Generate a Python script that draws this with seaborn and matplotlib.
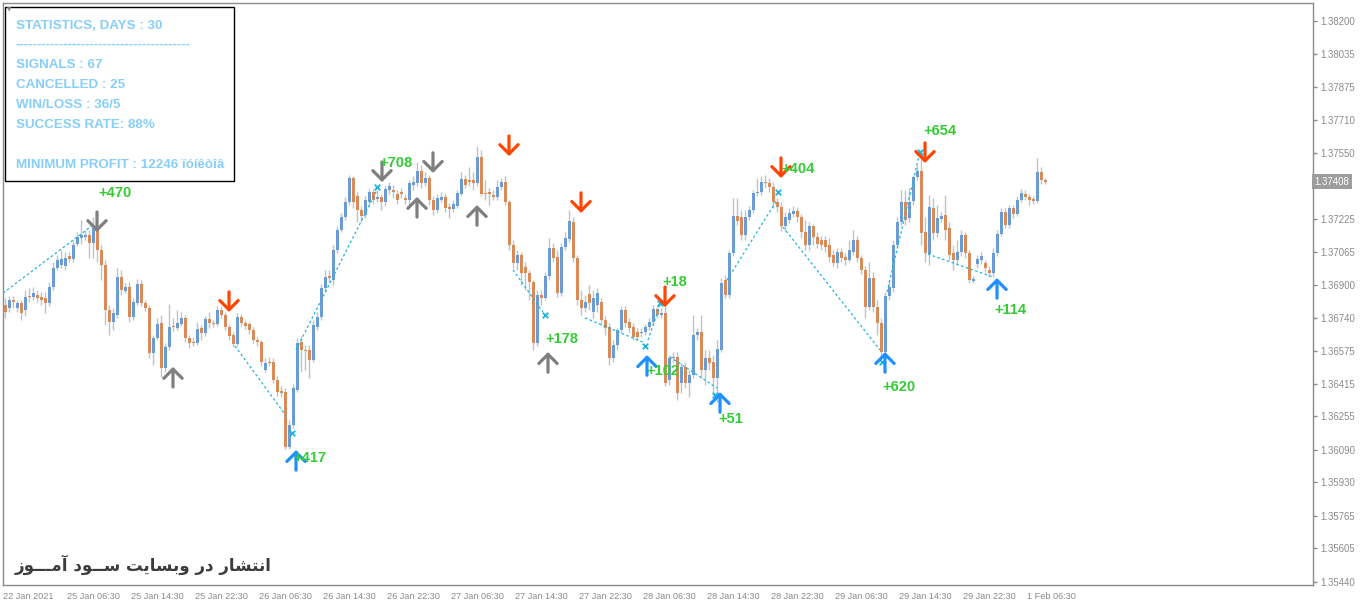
import numpy as np
import pandas as pd
import seaborn as sns
import matplotlib.pyplot as plt
from matplotlib.patches import Rectangle


# 30 minute bars, quotes in points (price * 1e5)
open_pts = [
    136802, 136788, 136827, 136788, 136812, 136778, 136846, 136842, 136851, 136842,
    136837, 136812, 136891, 136985, 136999, 136994, 137043, 137029, 137102, 137132,
    137137, 137147, 137107, 137181, 137073, 136999, 136778, 136719, 136753, 136940,
    136871, 136891, 136744, 136812, 136905, 136812, 136788, 136566, 136640, 136714,
    136493, 136596, 136699, 136689, 136709, 136739, 136640, 136620, 136615, 136689,
    136664, 136734, 136714, 136709, 136778, 136753, 136694, 136654, 136610, 136744,
    136714, 136709, 136679, 136630, 136620, 136483, 136522, 136522, 136433, 136379,
    136374, 136104, 136212, 136384, 136620, 136581, 136581, 136532, 136694, 136744,
    136886, 136945, 136925, 137073, 137171, 137236, 137309, 137427, 137339, 137270,
    137245, 137309, 137358, 137324, 137334, 137309, 137368, 137368, 137348, 137358,
    137329, 137319, 137393, 137402, 137462, 137402, 137427, 137319, 137270, 137319,
    137334, 137285, 137275, 137290, 137348, 137422, 137417, 137417, 137402, 137531,
    137353, 137358, 137343, 137334, 137383, 137407, 137309, 137098, 137009, 137048,
    136989, 136960, 136915, 136615, 136851, 136837, 136945, 137083, 137039, 136861,
    137088, 137127, 137211, 137034, 136827, 136788, 136856, 136768, 136802, 136817,
    136729, 136694, 136542, 136606, 136679, 136778, 136719, 136694, 136669, 136664,
    136669, 136694, 136719, 136783, 136753, 136763, 136433, 136542, 136547, 136418,
    136498, 136418, 136458, 136654, 136669, 136483, 136542, 136522, 136444, 136581,
    136925, 136851, 137058, 137240, 137236, 137147, 137236, 137270, 137353, 137358,
    137407, 137402, 137383, 137309, 137285, 137191, 137221, 137250, 137265, 137236,
    137161, 137098, 137191, 137137, 137122, 137122, 137098, 137048, 137009, 137063,
    137039, 137024, 137063, 137122, 137034, 136975, 136792, 136935, 136792, 136714,
    136571, 136846, 136886, 137098, 137211, 137309, 137231, 137314, 137432, 137462,
    137161, 137053, 137280, 137156, 137226, 137245, 137181, 137058, 137024, 137063,
    137147, 137058, 136920, 137004, 137024, 137009, 136975, 136960, 137058, 137152,
    137260, 137196, 137280, 137250, 137319, 137348, 137334, 137324, 137314, 137457,
    137417,
]
close_pts = [
    136768, 136827, 136817, 136812, 136763, 136842, 136842, 136861, 136837, 136827,
    136812, 136891, 136985, 137024, 137029, 137034, 137029, 137098, 137137, 137147,
    137147, 137107, 137181, 137073, 136999, 136778, 136719, 136763, 136940, 136876,
    136891, 136744, 136817, 136905, 136812, 136788, 136566, 136640, 136709, 136493,
    136596, 136694, 136694, 136714, 136739, 136640, 136615, 136615, 136684, 136664,
    136734, 136714, 136709, 136778, 136753, 136694, 136649, 136610, 136744, 136714,
    136699, 136679, 136630, 136620, 136522, 136517, 136517, 136433, 136374, 136369,
    136104, 136212, 136394, 136615, 136581, 136576, 136532, 136704, 136744, 136886,
    136940, 136935, 137073, 137171, 137236, 137309, 137427, 137309, 137270, 137240,
    137319, 137358, 137319, 137334, 137309, 137373, 137388, 137358, 137319, 137348,
    137319, 137402, 137407, 137462, 137402, 137427, 137319, 137270, 137329, 137334,
    137280, 137275, 137299, 137353, 137422, 137393, 137407, 137402, 137531, 137348,
    137348, 137348, 137334, 137383, 137407, 137309, 137098, 137009, 137048, 136960,
    136960, 136915, 136615, 136851, 136837, 136945, 137083, 137034, 136861, 137088,
    137132, 137216, 137034, 136827, 136788, 136817, 136812, 136837, 136861, 136729,
    136689, 136542, 136606, 136679, 136778, 136714, 136689, 136645, 136645, 136669,
    136694, 136719, 136783, 136753, 136763, 136418, 136542, 136547, 136369, 136498,
    136418, 136458, 136654, 136669, 136483, 136542, 136517, 136444, 136586, 136910,
    136851, 137058, 137240, 137216, 137147, 137236, 137270, 137353, 137358, 137407,
    137402, 137383, 137309, 137285, 137191, 137236, 137255, 137265, 137236, 137161,
    137098, 137191, 137137, 137102, 137098, 137088, 137039, 137009, 137063, 137034,
    137024, 137073, 137122, 137034, 136975, 136792, 136935, 136792, 136714, 136571,
    136846, 136891, 137098, 137211, 137309, 137221, 137309, 137432, 137462, 137156,
    137058, 137285, 137156, 137231, 137240, 137171, 137048, 137024, 137063, 137147,
    137058, 136925, 136930, 137029, 137043, 136985, 136960, 137058, 137152, 137260,
    137196, 137280, 137250, 137319, 137353, 137334, 137319, 137314, 137457, 137417,
    137408,
]
high_pts = [
    136837, 136846, 136846, 136827, 136827, 136876, 136886, 136891, 136876, 136866,
    136866, 136915, 137014, 137048, 137073, 137063, 137063, 137122, 137161, 137221,
    137171, 137171, 137236, 137250, 137098, 137024, 136802, 136788, 136985, 136975,
    136910, 136915, 136837, 136930, 136925, 136827, 136802, 136654, 136739, 136753,
    136615, 136807, 136739, 136778, 136768, 136753, 136654, 136645, 136719, 136704,
    136748, 136768, 136729, 136797, 136797, 136768, 136709, 136669, 136763, 136758,
    136729, 136719, 136694, 136645, 136630, 136542, 136547, 136542, 136453, 136404,
    136394, 136237, 136413, 136640, 136650, 136606, 136606, 136729, 136768, 136905,
    136975, 136975, 137098, 137191, 137255, 137334, 137442, 137437, 137358, 137290,
    137339, 137373, 137373, 137368, 137348, 137388, 137407, 137393, 137368, 137378,
    137348, 137417, 137437, 137506, 137491, 137457, 137442, 137339, 137348, 137358,
    137353, 137304, 137319, 137368, 137457, 137442, 137481, 137457, 137585, 137565,
    137417, 137378, 137368, 137417, 137427, 137437, 137319, 137122, 137073, 137063,
    137014, 136975, 136925, 136876, 136876, 136965, 137132, 137107, 137073, 137107,
    137161, 137270, 137236, 137048, 136876, 136851, 136900, 136876, 136886, 136837,
    136748, 136714, 136630, 136689, 136797, 136797, 136739, 136714, 136689, 136689,
    136709, 136739, 136802, 136802, 136788, 136802, 136557, 136571, 136571, 136517,
    136522, 136483, 136753, 136689, 136753, 136581, 136581, 136557, 136630, 136935,
    136950, 137073, 137329, 137329, 137270, 137270, 137290, 137368, 137427, 137437,
    137442, 137427, 137407, 137329, 137309, 137260, 137280, 137290, 137285, 137250,
    137221, 137211, 137201, 137161, 137142, 137142, 137132, 137073, 137083, 137083,
    137058, 137122, 137171, 137142, 137048, 136994, 137014, 136965, 136827, 136739,
    136866, 136925, 137122, 137236, 137368, 137368, 137378, 137442, 137491, 137565,
    137236, 137343, 137329, 137294, 137260, 137343, 137211, 137098, 137122, 137171,
    137161, 137073, 136945, 137048, 137063, 137024, 136994, 137083, 137171, 137280,
    137280, 137294, 137294, 137339, 137373, 137368, 137348, 137339, 137526, 137481,
    137427,
]
low_pts = [
    136739, 136768, 136788, 136768, 136729, 136748, 136817, 136827, 136817, 136802,
    136763, 136797, 136876, 136975, 136985, 136975, 137014, 137014, 137093, 137102,
    137122, 137034, 137034, 137014, 136925, 136704, 136655, 136679, 136739, 136851,
    136861, 136719, 136729, 136802, 136797, 136773, 136542, 136507, 136630, 136449,
    136473, 136581, 136674, 136679, 136699, 136620, 136591, 136601, 136606, 136630,
    136649, 136689, 136694, 136699, 136739, 136679, 136630, 136596, 136601, 136699,
    136684, 136659, 136615, 136601, 136502, 136473, 136502, 136418, 136354, 136350,
    136094, 136094, 136197, 136374, 136473, 136483, 136444, 136522, 136679, 136729,
    136866, 136915, 136900, 137058, 137161, 137221, 137294, 137279, 137211, 137211,
    137231, 137290, 137299, 137309, 137270, 137290, 137348, 137329, 137299, 137329,
    137299, 137294, 137368, 137388, 137378, 137388, 137294, 137245, 137255, 137309,
    137260, 137231, 137260, 137280, 137339, 137378, 137388, 137368, 137388, 137339,
    137319, 137294, 137319, 137319, 137368, 137294, 137073, 136985, 136975, 136900,
    136876, 136827, 136581, 136601, 136802, 136827, 136925, 137014, 136842, 136846,
    137073, 137112, 137014, 136802, 136753, 136768, 136778, 136739, 136768, 136704,
    136654, 136507, 136522, 136581, 136664, 136694, 136669, 136630, 136630, 136645,
    136654, 136679, 136704, 136739, 136739, 136404, 136408, 136522, 136335, 136369,
    136394, 136350, 136444, 136630, 136444, 136408, 136483, 136359, 136325, 136571,
    136837, 136837, 137043, 137196, 137122, 137122, 137221, 137255, 137339, 137343,
    137378, 137358, 137280, 137260, 137166, 137166, 137206, 137236, 137211, 137132,
    137073, 137073, 137098, 137083, 137073, 137063, 137014, 136994, 136985, 137014,
    136999, 137014, 137048, 137014, 136955, 136739, 136778, 136768, 136654, 136547,
    136556, 136827, 136866, 137083, 137196, 137196, 137211, 137294, 137417, 137098,
    137014, 136999, 137122, 137137, 137211, 137122, 137024, 136975, 137004, 137043,
    137034, 136910, 136910, 136985, 137004, 136965, 136940, 136940, 137043, 137142,
    137181, 137181, 137231, 137240, 137309, 137319, 137294, 137299, 137304, 137398,
    137398,
]

# right price scale (MT4 style labels) and bottom time scale
price_ticks = [1.38200, 1.38035, 1.37875, 1.37710, 1.37550, 1.37225, 1.37065, 1.36900, 1.36740,
               1.36575, 1.36415, 1.36255, 1.36090, 1.35930, 1.35765, 1.35605, 1.35440]
last_price = 1.37408
time_bars = [-0.5, 15.5, 31.5, 47.5, 63.5, 79.5, 95.5, 111.5, 127.5, 143.5,
             159.5, 175.5, 191.5, 207.5, 223.5, 239.5, 255.5]
time_labels = ['22 Jan 2021', '25 Jan 06:30', '25 Jan 14:30', '25 Jan 22:30', '26 Jan 06:30',
               '26 Jan 14:30', '26 Jan 22:30', '27 Jan 06:30', '27 Jan 14:30', '27 Jan 22:30',
               '28 Jan 06:30', '28 Jan 14:30', '28 Jan 22:30', '29 Jan 06:30', '29 Jan 14:30',
               '29 Jan 22:30', '1 Feb 06:30']

# signal arrows: bar, price at arrow tip, direction, kind
sig_bar = [23, 42, 56, 72.75, 94.25, 107, 103, 118, 126, 144, 135.75, 165, 160.5, 178.75, 194, 220, 230, 248]
sig_tip = [1.37161, 1.36498, 1.36768, 1.36089, 1.37407, 1.37452, 1.37334, 1.37294, 1.37535,
           1.37255, 1.36571, 1.36792, 1.36556, 1.36374, 1.37427, 1.36571, 1.37501, 1.36935]
sig_dir = ['down', 'up', 'down', 'up', 'down', 'down', 'up', 'up', 'down',
           'down', 'up', 'down', 'up', 'up', 'down', 'up', 'down', 'up']
sig_kind = ['old', 'old', 'sell', 'buy', 'old', 'old', 'old', 'old', 'sell',
            'sell', 'old', 'sell', 'buy', 'buy', 'sell', 'buy', 'sell', 'buy']

# profit labels
lab_bar = [27.5, 97.75, 139.25, 167.5, 164.5, 181.5, 198.25, 223.5, 233.75, 251.25, 76.25]
lab_price = [1.37353, 1.37501, 1.36635, 1.36915, 1.36478, 1.36242, 1.37472, 1.36399, 1.37659, 1.36778, 1.36050]
lab_text = ['+470', '+708', '+178', '+18', '+102', '+51', '+404', '+620', '+654', '+114', '+417']

# entry marks and dotted trade lines
mark_bar = [93, 135, 160, 163.75, 71.75, 193.25, 219.25, 228.75, 177.5]
mark_price = [1.37383, 1.36753, 1.36601, 1.36812, 1.36172, 1.37358, 1.36522, 1.37555, 1.36359]
seg_bar0 = [-0.5, 57.5, 72.75, 127, 145, 160.75, 166.25, 180.5, 194.5, 220.5, 230.75]
seg_p0 = [1.36861, 1.36601, 1.36581, 1.36975, 1.36739, 1.36630, 1.36547, 1.36925, 1.37186, 1.36866, 1.37053]
seg_bar1 = [22, 70.5, 93, 134.5, 160, 163.75, 178, 193, 218.75, 228.75, 247]
seg_p1 = [1.37196, 1.36251, 1.37368, 1.36768, 1.36615, 1.36802, 1.36394, 1.37319, 1.36581, 1.37555, 1.36940]

stats_lines = ['STATISTICS, DAYS : 30', '-' * 40, 'SIGNALS : 67', 'CANCELLED : 25',
               'WIN/LOSS : 36/5', 'SUCCESS RATE: 88%', 'MINIMUM PROFIT : 12246 ïóíêòîâ']
# "انتشار در وبسایت ســود آمـــوز" in Arabic presentation forms, visual order
watermark = ('\uFEAF\uFEEE\u0640\u0640\u0640\uFEE3\uFE81 \uFEA9\uFEEE\u0640\u0640\uFEB3 '
             '\uFE96\uFEF3\uFE8E\uFEB4\uFE91\uFEED \uFEAD\uFEA9 \uFEAD\uFE8E\uFEB8\uFE98\uFEE7\uFE8D')

BLUE, ORANGE, WICK = '#6b9bd3', '#d98a57', '#bcc2c8'
CYAN, GREEN, GRAY = '#1cb4e0', '#33cc33', '#8a8a8a'
ARROW_COL = {'old': '#7f7f7f', 'sell': '#ff4500', 'buy': '#1e90ff'}

sns.set_style('white')
plt.rcParams['font.family'] = ['Liberation Sans', 'DejaVu Sans']

W, H = 1360, 601
fig = plt.figure(figsize=(W / 100, H / 100), dpi=100)
fig.patch.set_facecolor('white')
ax = fig.add_axes([3 / W, 16 / H, 1310 / W, 582 / H])

df = pd.DataFrame({'open': open_pts, 'high': high_pts, 'low': low_pts, 'close': close_pts}) / 1e5
df['bar'] = np.arange(len(df))
body = df['close'] - df['open']
body = body.where(body.abs() > 4e-5, np.where(body < 0, -4e-5, 4e-5))
colors = np.where(df['close'] >= df['open'], BLUE, ORANGE)

ax.vlines(df['bar'], df['low'], df['high'], colors=WICK, lw=1, zorder=1)
ax.bar(df['bar'], body, bottom=df['open'], width=0.75, color=colors, lw=0, zorder=2,
       antialiased=False)

for b0, p0, b1, p1 in zip(seg_bar0, seg_p0, seg_bar1, seg_p1):
    ax.plot([b0, b1], [p0, p1], ls=(0, (2, 2)), color=CYAN, lw=0.9, zorder=3)

marks = pd.DataFrame({'bar': mark_bar, 'price': mark_price})
sns.scatterplot(data=marks, x='bar', y='price', marker='x', color=CYAN, s=16,
                linewidth=1.3, ax=ax, zorder=4, legend=False)

for b, p, d, k in zip(sig_bar, sig_tip, sig_dir, sig_kind):
    off = 14.5 if d == 'down' else -14.5
    ax.annotate('', xy=(b, p), xytext=(0, off), textcoords='offset points', zorder=6,
                arrowprops=dict(arrowstyle='->,head_length=0.33,head_width=0.33',
                                mutation_scale=20, lw=2.3, color=ARROW_COL[k],
                                shrinkA=0, shrinkB=0))

for b, p, t in zip(lab_bar, lab_price, lab_text):
    ax.text(b, p, t, ha='center', va='center', color=GREEN, fontsize=10.5,
            fontweight='bold', zorder=7)

ax.set_xlim(-0.5, 327)
ax.set_ylim(1.35425, 1.38288)
ax.set_xlabel('')
ax.set_ylabel('')
ax.yaxis.tick_right()
ax.set_yticks(price_ticks)
ax.set_yticklabels([f'{v:.5f}' for v in price_ticks])
ax.set_xticks(time_bars)
ax.set_xticklabels(time_labels, ha='left')
ax.tick_params(axis='y', direction='out', length=3, width=1, color=GRAY,
               labelcolor=GRAY, labelsize=6.9, pad=2)
ax.tick_params(axis='x', direction='out', length=4, width=1, color=GRAY,
               labelcolor=GRAY, labelsize=6.6, pad=1)
for s in ax.spines.values():
    s.set_color('#8c8c8c')
    s.set_linewidth(1)

ax.text(1.0012, last_price, f'{last_price:.5f}', transform=ax.get_yaxis_transform(),
        ha='left', va='center', color='white', fontsize=6.9, zorder=8,
        bbox=dict(boxstyle='square,pad=0.25', fc='#9d9d9d', ec='none'))

# statistics panel
fig.add_artist(Rectangle((5 / W, 1 - 181 / H), 229 / W, 174 / H, transform=fig.transFigure,
                         fc='white', ec='black', lw=1, zorder=10))
fig.text(9 / W, 1 - 10 / H, '\u25bc', fontsize=4, color=GRAY, ha='center', va='center',
         family='DejaVu Sans', zorder=11)
for line, base in zip(stats_lines, [29, 48, 68, 88, 108, 128, 168]):
    fig.text(16 / W, 1 - base / H, line, ha='left', va='baseline', color='#87cefa',
             fontsize=9.6, fontweight='bold', zorder=11)

fig.text(15 / W, 1 - 571 / H, watermark, ha='left', va='baseline', color='#3c3c3c',
         fontsize=12, fontweight='bold', family=['DejaVu Sans'])

fig.savefig('out.png', dpi=100)
